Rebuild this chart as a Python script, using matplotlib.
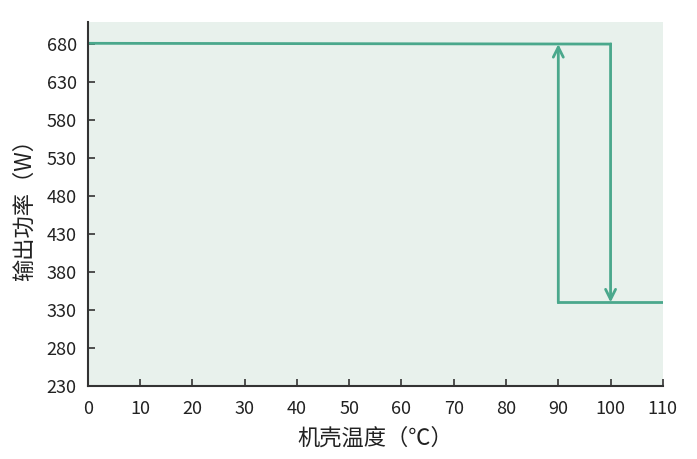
import matplotlib
matplotlib.use("Agg")
import matplotlib.pyplot as plt

plt.rcParams['font.family'] = ['Noto Sans CJK SC', 'DejaVu Sans']

# Data
main_x = [0, 100, 100]
main_y = [681, 680, 340]
low_x = [90, 110]
low_y = [340, 340]
rise_x = [90, 90]
rise_y = [340, 680]
xticks = [0, 10, 20, 30, 40, 50, 60, 70, 80, 90, 100, 110]
yticks = [230, 280, 330, 380, 430, 480, 530, 580, 630, 680]

color = '#4aa88c'

fig = plt.figure(figsize=(6.97, 4.59), dpi=100)
ax = fig.add_axes([0.126, 0.159, 0.825, 0.793])
ax.set_facecolor('#e8f1ec')

ax.plot(main_x[:2], main_y[:2], color=color, lw=2)
ax.annotate('', xy=(main_x[2], main_y[2]), xytext=(main_x[1], main_y[1]),
            arrowprops=dict(arrowstyle='->', color=color, lw=2, mutation_scale=18,
                            shrinkA=0, shrinkB=0))
ax.plot(low_x, low_y, color=color, lw=2)
ax.annotate('', xy=(rise_x[1], rise_y[1]), xytext=(rise_x[0], rise_y[0]),
            arrowprops=dict(arrowstyle='->', color=color, lw=2, mutation_scale=18,
                            shrinkA=0, shrinkB=0))

ax.set_xlim(0, 110)
ax.set_ylim(230, 709)
ax.set_xticks(xticks)
ax.set_yticks(yticks)
ax.tick_params(direction='in', length=5, width=1.2, colors='#333333', labelsize=13, labelcolor='#222222')
ax.tick_params(axis='x', pad=10)
ax.tick_params(axis='y', pad=8)
for s in ['top', 'right']:
    ax.spines[s].set_visible(False)
for s in ['left', 'bottom']:
    ax.spines[s].set_color('#333333')
    ax.spines[s].set_linewidth(1.5)

ax.set_xlabel('机壳温度（℃）', fontsize=16, color='#222222', labelpad=6)
ax.set_ylabel('输出功率（W）', fontsize=16, color='#222222', labelpad=8)

fig.savefig('out.png', dpi=100)
